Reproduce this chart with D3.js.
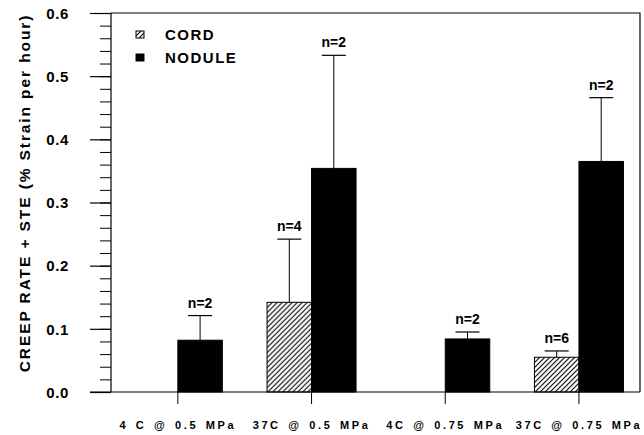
<html>
<head>
<meta charset="utf-8">
<title>Creep rate</title>
<style>
  body { margin: 0; background: #fff; }
  text { font-family: "Liberation Sans", Arial, sans-serif; font-weight: bold; fill: #000; }
</style>
</head>
<body>
<svg id="chart" width="644" height="435"></svg>
<script src="https://d3js.org/d3.v7.min.js"></script>
<script>
// values
const categories = ["4 C @ 0.5 MPa", "37C @ 0.5 MPa", "4C @ 0.75 MPa", "37C @ 0.75 MPa"];
const cordMean = [0, 0.142, 0, 0.055];
const cordSte = [null, 0.100, null, 0.010];
const cordN = [null, 4, null, 6];
const noduleMean = [0.082, 0.354, 0.084, 0.365];
const noduleSte = [0.039, 0.179, 0.011, 0.101];
const noduleN = [2, 2, 2, 2];
const yMajor = [0, 0.1, 0.2, 0.3, 0.4, 0.5, 0.6];
const yMinor = d3.range(0, 31).map(i => i / 50);

const svg = d3.select("#chart");
const plotL = 111, plotR = 640, plotT = 13, plotB = 392;

const x = d3.scaleBand().domain(categories).range([plotL, plotL + 4 * 133.7]).padding(0);
const sub = d3.scaleBand().domain(["cord", "nodule"])
    .range([x.bandwidth() / 2 - 44.5, x.bandwidth() / 2 + 44.5]);
const y = d3.scaleLinear().domain([0, 0.6]).range([plotB, plotT]);

// hatch pattern for cord bars
const defs = svg.append("defs");
defs.append("pattern")
    .attr("id", "hatch")
    .attr("patternUnits", "userSpaceOnUse")
    .attr("width", 5).attr("height", 5)
    .append("path")
    .attr("d", "M-1,1 l2,-2 M0,5 l5,-5 M4,6 l2,-2")
    .attr("stroke", "#000").attr("stroke-width", 1.1);

// frame
svg.append("path")
    .attr("d", `M${plotL},${plotT} H${plotR} V${plotB}`)
    .attr("fill", "none").attr("stroke", "#000").attr("stroke-width", 1.2);

// y axis, minor then major
svg.append("g").attr("transform", `translate(${plotL},0)`)
    .call(d3.axisLeft(y).tickValues(yMinor).tickSize(11).tickFormat(""))
    .call(g => g.select(".domain").remove())
    .selectAll("line").attr("stroke-width", 1);
const yAxis = svg.append("g").attr("transform", `translate(${plotL},0)`)
    .call(d3.axisLeft(y).tickValues(yMajor).tickSize(21).tickPadding(21).tickFormat(d3.format(".1f")))
    .call(g => g.select(".domain").attr("stroke-width", 1.2).attr("d", `M0,${plotT}V${plotB}`));
yAxis.selectAll("line").attr("stroke-width", 1.2);
yAxis.selectAll("text").style("font-size", "15px").style("letter-spacing", "0.6px").attr("dy", "0.35em");

// x axis baseline with group ticks
const xAxis = svg.append("g").attr("transform", `translate(0,${plotB})`)
    .call(d3.axisBottom(x).tickSize(12).tickPadding(17));
xAxis.select(".domain").attr("d", `M${plotL - 21},0H${plotR}`).attr("stroke-width", 1.2);
xAxis.selectAll("text").style("font-size", "11px").style("letter-spacing", "2.6px")
    .style("word-spacing", "2px").attr("dy", "0.71em");

// bars
const groups = categories.map((c, i) => ({
  cat: c,
  bars: [
    {key: "cord", v: cordMean[i], se: cordSte[i], n: cordN[i]},
    {key: "nodule", v: noduleMean[i], se: noduleSte[i], n: noduleN[i]}
  ]
}));

const g = svg.selectAll("g.grp").data(groups).join("g")
    .attr("class", "grp")
    .attr("transform", d => `translate(${x(d.cat)},0)`);

const bars = g.selectAll("g.bar").data(d => d.bars.filter(b => b.v > 0)).join("g").attr("class", "bar");

bars.filter(b => b.se != null).append("line")
    .attr("x1", b => sub(b.key) + sub.bandwidth() / 2)
    .attr("x2", b => sub(b.key) + sub.bandwidth() / 2)
    .attr("y1", b => y(b.v))
    .attr("y2", b => y(b.v + b.se))
    .attr("stroke", "#000").attr("stroke-width", 1);
bars.filter(b => b.se != null).append("line")
    .attr("x1", b => sub(b.key) + sub.bandwidth() / 2 - 12)
    .attr("x2", b => sub(b.key) + sub.bandwidth() / 2 + 12)
    .attr("y1", b => y(b.v + b.se))
    .attr("y2", b => y(b.v + b.se))
    .attr("stroke", "#000").attr("stroke-width", 1.2);

bars.append("rect")
    .attr("x", b => sub(b.key))
    .attr("width", sub.bandwidth())
    .attr("y", b => y(b.v))
    .attr("height", b => y(0) - y(b.v))
    .attr("fill", b => b.key === "cord" ? "url(#hatch)" : "#000")
    .attr("stroke", "#000").attr("stroke-width", 1);

bars.filter(b => b.n != null).append("text")
    .attr("x", b => sub(b.key) + sub.bandwidth() / 2)
    .attr("y", b => y(b.v + b.se) - 8)
    .attr("text-anchor", "middle")
    .style("font-size", "14px")
    .text(b => `n=${b.n}`);

// legend
const legend = [{label: "CORD", fill: "url(#hatch)"}, {label: "NODULE", fill: "#000"}];
const lg = svg.selectAll("g.leg").data(legend).join("g")
    .attr("class", "leg")
    .attr("transform", (d, i) => `translate(136,${31 + i * 23})`);
lg.append("rect").attr("width", 8).attr("height", 7)
    .attr("fill", d => d.fill).attr("stroke", "#000").attr("stroke-width", 1);
lg.append("text").attr("x", 29).attr("y", 9)
    .style("font-size", "15px").style("letter-spacing", "1.5px")
    .text(d => d.label);

// y title
svg.append("text")
    .attr("transform", `translate(30,193) rotate(-90)`)
    .attr("text-anchor", "middle")
    .style("font-size", "15.5px").style("letter-spacing", "1.9px")
    .text("CREEP RATE + STE (% Strain per hour)");
</script>
</body>
</html>
